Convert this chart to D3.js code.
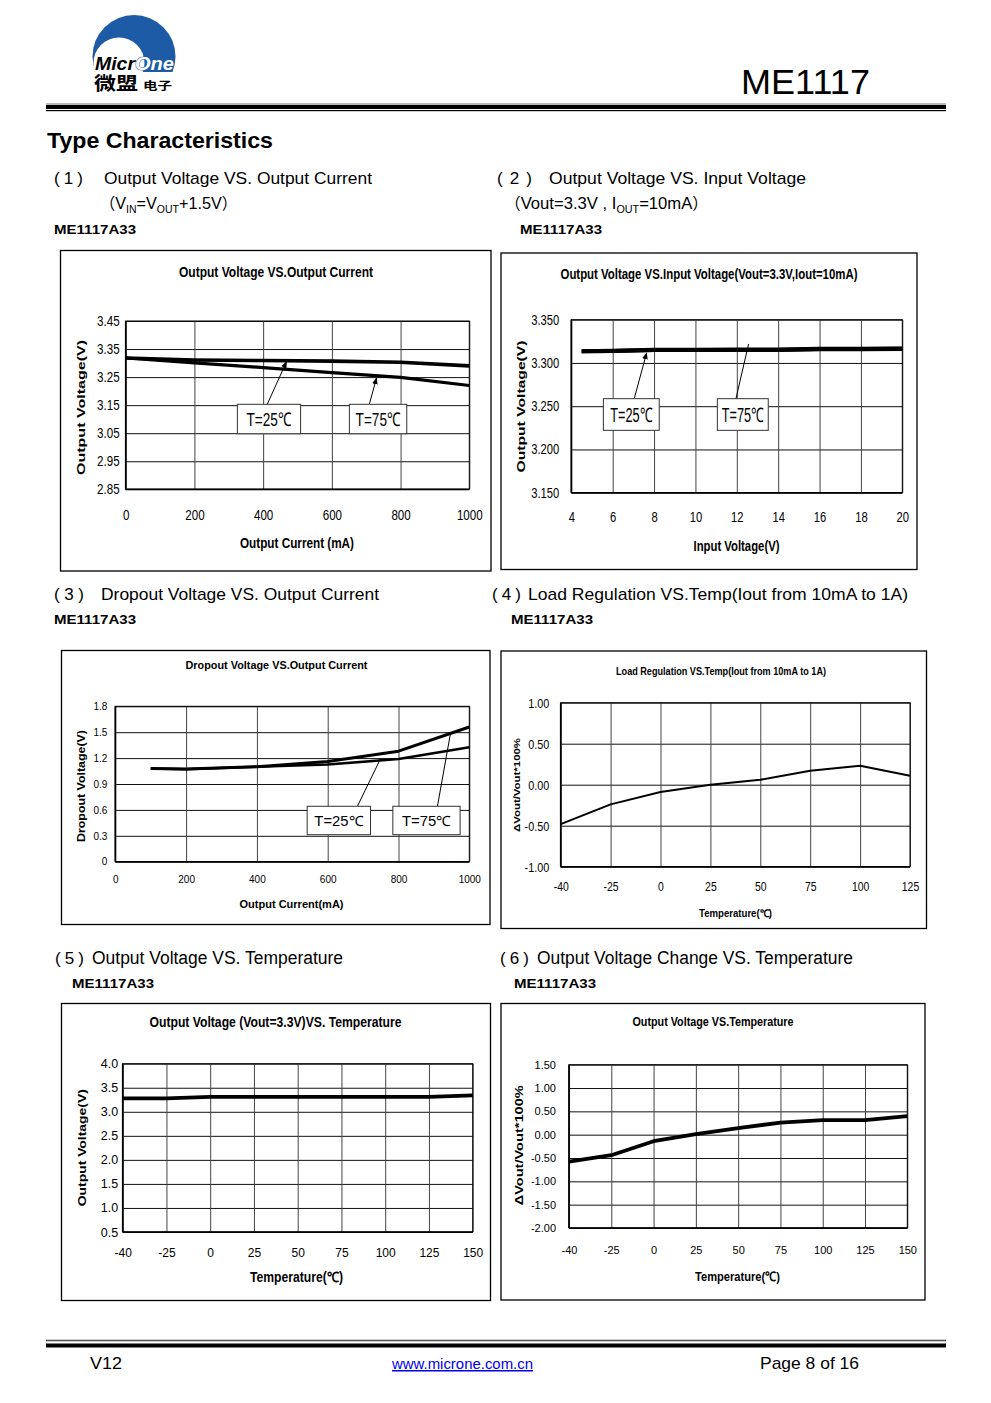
<!DOCTYPE html>
<html><head><meta charset="utf-8">
<script src="https://cdn.jsdelivr.net/npm/d3@7"></script>
<style>body{margin:0;background:#fff}svg{display:block}</style>
</head><body>
<svg id="page" width="991" height="1403"></svg>
<script>
// ================= DATA =================
// (1) Output Voltage vs Output Current
const c1Current = [0, 200, 400, 600, 800, 1000];
const c1Vout25 = [3.318, 3.311, 3.309, 3.307, 3.303, 3.290];
const c1Vout75 = [3.318, 3.301, 3.284, 3.266, 3.249, 3.220];
const c1YTicks = [2.85, 2.95, 3.05, 3.15, 3.25, 3.35, 3.45];
const c1XTicks = [0, 200, 400, 600, 800, 1000];

// (2) Output Voltage vs Input Voltage
const c2Vin = [4.5, 6, 8, 10, 12, 14, 16, 18, 20];
const c2Vout25 = [3.3135, 3.3138, 3.3150, 3.3150, 3.3150, 3.3150, 3.3160, 3.3160, 3.3162];
const c2Vout75 = [3.3135, 3.3140, 3.3152, 3.3152, 3.3153, 3.3155, 3.3162, 3.3163, 3.3165];
const c2YTicks = [3.15, 3.20, 3.25, 3.30, 3.35];
const c2XTicks = [4, 6, 8, 10, 12, 14, 16, 18, 20];

// (3) Dropout Voltage vs Output Current
const c3Current = [100, 200, 400, 600, 800, 1000];
const c3Drop25 = [1.08, 1.07, 1.10, 1.125, 1.19, 1.325];
const c3Drop75 = [1.08, 1.075, 1.10, 1.16, 1.28, 1.56];
const c3YTicks = [0, 0.3, 0.6, 0.9, 1.2, 1.5, 1.8];
const c3XTicks = [0, 200, 400, 600, 800, 1000];

// (4) Load Regulation vs Temp
const c4Temp = ["-40", "-25", "0", "25", "50", "75", "100", "125"];
const c4Reg = [-0.48, -0.24, -0.09, 0.00, 0.06, 0.17, 0.23, 0.11];
const c4YTicks = [-1.0, -0.5, 0.0, 0.5, 1.0];

// (5) Output Voltage vs Temperature
const c5Temp = ["-40", "-25", "0", "25", "50", "75", "100", "125", "150"];
const c5Vout = [3.28, 3.28, 3.31, 3.31, 3.31, 3.31, 3.31, 3.31, 3.34];
const c5YTicks = [0.5, 1.0, 1.5, 2.0, 2.5, 3.0, 3.5, 4.0];

// (6) Output Voltage Change vs Temperature
const c6Temp = ["-40", "-25", "0", "25", "50", "75", "100", "125", "150"];
const c6Change = [-0.58, -0.44, -0.14, 0.01, 0.14, 0.26, 0.31, 0.31, 0.40];
const c6YTicks = [-2.0, -1.5, -1.0, -0.5, 0.0, 0.5, 1.0, 1.5];

// ================= DRAW =================
const ARIAL = "'Liberation Sans',Arial,sans-serif";
const CJK = "'Noto Sans CJK SC','Noto Sans CJK JP',sans-serif";
const BLUE = "#1d5ba6";
const fix = f => d => f(d).replace("\u2212", "-");

const svg = d3.select("#page");
svg.append("rect").attr("width", 991).attr("height", 1403).attr("fill", "#fff");

const defs = svg.append("defs");
defs.append("marker").attr("id", "arr").attr("viewBox", "0 0 10 10").attr("refX", 9).attr("refY", 5)
  .attr("markerWidth", 7).attr("markerHeight", 7).attr("orient", "auto-start-reverse")
  .attr("markerUnits", "userSpaceOnUse")
  .append("path").attr("d", "M0,1 L10,5 L0,9 Z").attr("fill", "#000");

function txt(parent, x, y, s, o = {}) {
  const t = parent.append("text").attr("x", x).attr("y", y).text(s)
    .attr("font-family", o.family || ARIAL).attr("font-size", o.size || 12)
    .attr("font-weight", o.weight || "normal").attr("text-anchor", o.anchor || "start")
    .attr("fill", o.fill || "#000");
  if (o.len) t.attr("textLength", o.len).attr("lengthAdjust", "spacingAndGlyphs");
  if (o.rotate) t.attr("transform", `rotate(-90 ${x} ${y})`).attr("dy", "0.35em");
  if (o.style) t.attr("font-style", o.style);
  return t;
}
function squeeze(sel, k) {
  if (k === 1) return;
  sel.each(function () {
    const w = this.getComputedTextLength();
    d3.select(this).attr("textLength", w * k).attr("lengthAdjust", "spacingAndGlyphs");
  });
}

// ---------- page header ----------
const logo = svg.append("g");
defs.append("clipPath").attr("id", "logoClip").append("rect").attr("x", 80).attr("y", 0).attr("width", 120).attr("height", 72);
logo.append("circle").attr("cx", 134).attr("cy", 56.5).attr("r", 41.5).attr("fill", BLUE).attr("clip-path", "url(#logoClip)");
logo.append("circle").attr("cx", 119).attr("cy", 63).attr("r", 25.5).attr("fill", "#fff").attr("clip-path", "url(#logoClip)");
txt(logo, 95, 70, "Micr", { size: 18, weight: "bold", style: "italic", len: 40 });
txt(logo, 135, 70, "One", { size: 18, weight: "bold", style: "italic", len: 39, fill: "#fff" })
  .attr("stroke", BLUE).attr("stroke-width", 0.9).attr("paint-order", "stroke");
txt(logo, 94, 89.5, "微盟", { family: CJK, size: 18.5, weight: "bold", len: 44 });
txt(logo, 143, 89.5, "电子", { family: CJK, size: 11, weight: "bold", len: 29 });

txt(svg, 870, 94, "ME1117", { size: 35, anchor: "end", len: 129 });

svg.append("rect").attr("x", 46).attr("y", 103.5).attr("width", 900).attr("height", 1).attr("fill", "#777");
svg.append("rect").attr("x", 46).attr("y", 105).attr("width", 900).attr("height", 4).attr("fill", "#000");
svg.append("rect").attr("x", 46).attr("y", 110).attr("width", 900).attr("height", 1.2).attr("fill", "#000");

txt(svg, 47, 148, "Type Characteristics", { size: 22, weight: "bold", len: 226 });

// ---------- section headings ----------
// pl/pr: left/right edges of the "（n）" group
function heading(pl, pr, y, num, s, o) {
  txt(svg, pl, y, "(", { size: 17 });
  txt(svg, (pl + pr) / 2, y, num, { size: 17, anchor: "middle" });
  txt(svg, pr, y, ")", { size: 17, anchor: "end" });
  return txt(svg, o.tx, y, s, { size: o.size || 17, len: o.len });
}
heading(54, 83, 184, "1", "Output Voltage VS. Output Current", { tx: 104, len: 268 });
{
  const t = svg.append("text").attr("x", 100).attr("y", 209).attr("font-family", ARIAL).attr("font-size", 17);
  t.append("tspan").attr("font-family", CJK).attr("font-size", 16).text("（");
  t.append("tspan").text("V");
  t.append("tspan").attr("font-size", 11).attr("dy", 4).text("IN");
  t.append("tspan").attr("dy", -4).text("=V");
  t.append("tspan").attr("font-size", 11).attr("dy", 4).text("OUT");
  t.append("tspan").attr("dy", -4).text("+1.5V");
  t.append("tspan").attr("font-family", CJK).attr("font-size", 16).text("）");
  t.attr("textLength", 137).attr("lengthAdjust", "spacingAndGlyphs");
}
txt(svg, 54, 234, "ME1117A33", { size: 13.5, weight: "bold", len: 82 });

heading(497, 532, 184, "2", "Output Voltage VS. Input Voltage", { tx: 549, len: 257 });
{
  const t = svg.append("text").attr("x", 505).attr("y", 209).attr("font-family", ARIAL).attr("font-size", 17);
  t.append("tspan").attr("font-family", CJK).attr("font-size", 16).text("（");
  t.append("tspan").text("Vout=3.3V , I");
  t.append("tspan").attr("font-size", 11).attr("dy", 4).text("OUT");
  t.append("tspan").attr("dy", -4).text("=10mA");
  t.append("tspan").attr("font-family", CJK).attr("font-size", 16).text("）");
  t.attr("textLength", 203).attr("lengthAdjust", "spacingAndGlyphs");
}
txt(svg, 520, 234, "ME1117A33", { size: 13.5, weight: "bold", len: 82 });

heading(54, 84, 600, "3", "Dropout Voltage VS. Output Current", { tx: 101, len: 278 });
txt(svg, 54, 624, "ME1117A33", { size: 13.5, weight: "bold", len: 82 });

heading(492, 521, 600, "4", "Load Regulation VS.Temp(Iout from 10mA to 1A)", { tx: 528, len: 380 });
txt(svg, 511, 624, "ME1117A33", { size: 13.5, weight: "bold", len: 82 });

heading(55, 84, 964, "5", "Output Voltage VS. Temperature", { tx: 92, len: 251, size: 18 });
txt(svg, 72, 988, "ME1117A33", { size: 13.5, weight: "bold", len: 82 });

heading(500, 529, 964, "6", "Output Voltage Change VS. Temperature", { tx: 537, len: 316, size: 18 });
txt(svg, 514, 988, "ME1117A33", { size: 13.5, weight: "bold", len: 82 });

// ---------- chart builder ----------
function drawChart(o) {
  const g = svg.append("g");
  const [fx0, fy0, fx1, fy1] = o.frame;
  g.append("rect").attr("x", fx0).attr("y", fy0).attr("width", fx1 - fx0).attr("height", fy1 - fy0)
    .attr("fill", "#fff").attr("stroke", "#000").attr("stroke-width", 1.3);
  const [L, T, R, B] = o.plot;
  const x = o.x.range([L, R]);
  const y = o.y.range([B, T]);

  const ya = g.append("g").attr("transform", `translate(${L},0)`)
    .call(d3.axisLeft(y).tickValues(o.yTicks).tickFormat(o.yFmt).tickSize(-(R - L)).tickPadding(o.yPad));
  ya.select(".domain").remove();
  ya.selectAll(".tick line").attr("stroke", "#111").attr("stroke-width", 1);
  ya.selectAll(".tick text").attr("font-family", ARIAL).attr("font-size", o.yTickSize || o.tickSize).attr("fill", "#000");
  squeeze(ya.selectAll(".tick text"), o.k);

  const xa = g.append("g").attr("transform", `translate(0,${B})`)
    .call(d3.axisBottom(x).tickValues(o.xTicks).tickFormat(o.xFmt).tickSize(-(B - T)).tickPadding(o.xPad));
  xa.select(".domain").remove();
  xa.selectAll(".tick line").attr("stroke", "#444").attr("stroke-width", 1);
  xa.selectAll(".tick text").attr("font-family", ARIAL).attr("font-size", o.tickSize).attr("fill", "#000");
  squeeze(xa.selectAll(".tick text"), o.k);

  g.append("rect").attr("x", L).attr("y", T).attr("width", R - L).attr("height", B - T)
    .attr("fill", "none").attr("stroke", "#000").attr("stroke-width", 1);
  g.append("line").attr("x1", L).attr("x2", L).attr("y1", T).attr("y2", B).attr("stroke", "#000").attr("stroke-width", 1.6);
  g.append("line").attr("x1", L).attr("x2", R).attr("y1", B).attr("y2", B).attr("stroke", "#000").attr("stroke-width", 1.6);

  const line = d3.line().x(d => x(d[0])).y(d => y(d[1]));
  o.series.forEach(s => {
    g.append("path").datum(s.xs.map((xv, i) => [xv, s.ys[i]]))
      .attr("d", line).attr("fill", "none").attr("stroke", "#000")
      .attr("stroke-width", s.w).attr("stroke-linejoin", "round");
  });

  const t = o.title;
  txt(g, t.x, t.y, t.text, { size: t.size, weight: "bold", anchor: "middle", len: t.len });
  const xt = o.xTitle;
  txt(g, xt.x, xt.y, xt.text, { size: xt.size, weight: "bold", anchor: "middle", len: xt.len });
  const yt = o.yTitle;
  txt(g, yt.x, yt.y, yt.text, { size: yt.size, weight: "bold", anchor: "middle", len: yt.len, rotate: true });

  (o.notes || []).forEach(n => {
    const bx0 = x(n.box[0]), bx1 = x(n.box[1]), by0 = y(n.box[2]), by1 = y(n.box[3]);
    const ln = g.append("line").attr("x1", x(n.from)).attr("y1", by0).attr("x2", x(n.tip[0])).attr("y2", y(n.tip[1]))
      .attr("stroke", "#000").attr("stroke-width", 1);
    if (n.arrow) ln.attr("marker-end", "url(#arr)");
    g.append("rect").attr("x", bx0).attr("y", by0).attr("width", bx1 - bx0).attr("height", by1 - by0)
      .attr("fill", "#fff").attr("stroke", "#333").attr("stroke-width", 1);
    txt(g, (bx0 + bx1) / 2, (by0 + by1) / 2, n.label + "℃", { size: n.size, anchor: "middle", len: n.len })
      .attr("dy", "0.36em");
  });
  return { g, x, y };
}

// (1)
drawChart({
  frame: [60.5, 250.5, 491, 571],
  plot: [125.7, 321, 469.3, 489.3],
  x: d3.scaleLinear().domain([0, 1000]), xTicks: c1XTicks, xFmt: d3.format("d"), xPad: 20,
  y: d3.scaleLinear().domain([2.85, 3.45]), yTicks: c1YTicks, yFmt: d3.format(".2f"), yPad: 6,
  tickSize: 14.5, k: 0.8,
  series: [{ xs: c1Current, ys: c1Vout25, w: 3.6 }, { xs: c1Current, ys: c1Vout75, w: 3.2 }],
  title: { x: 276, y: 277, text: "Output Voltage VS.Output Current", size: 14.5, len: 194 },
  xTitle: { x: 297, y: 548, text: "Output Current (mA)", size: 14, len: 114 },
  yTitle: { x: 81.3, y: 407.5, text: "Output Voltage(V)", size: 11.5, len: 135 },
  notes: [
    { box: [325, 509, 3.153, 3.048], from: 412, tip: [468, 3.305], arrow: true, label: "T=25", size: 19, len: 45 },
    { box: [651, 818, 3.153, 3.048], from: 709, tip: [730, 3.247], arrow: true, label: "T=75", size: 19, len: 45 }
  ]
});

// (2)
drawChart({
  frame: [501, 253, 917, 569.5],
  plot: [571.3, 319.7, 902.3, 492.7],
  x: d3.scaleLinear().domain([4, 20]), xTicks: c2XTicks, xFmt: d3.format("d"), xPad: 19,
  y: d3.scaleLinear().domain([3.15, 3.35]), yTicks: c2YTicks, yFmt: d3.format(".3f"), yPad: 12,
  tickSize: 14, k: 0.8,
  series: [{ xs: c2Vin, ys: c2Vout25, w: 4.2 }, { xs: c2Vin, ys: c2Vout75, w: 4.2 }],
  title: { x: 709, y: 279, text: "Output Voltage VS.Input Voltage(Vout=3.3V,Iout=10mA)", size: 14.5, len: 297 },
  xTitle: { x: 736.5, y: 550.5, text: "Input Voltage(V)", size: 14, len: 86 },
  yTitle: { x: 521, y: 406.5, text: "Output Voltage(V)", size: 11.5, len: 132 },
  notes: [
    { box: [5.55, 8.25, 3.2587, 3.2221], from: 7.04, tip: [7.64, 3.3115], arrow: true, label: "T=25", size: 20, len: 42 },
    { box: [11.06, 13.52, 3.2587, 3.2221], from: 11.96, tip: [12.57, 3.322], arrow: false, label: "T=75", size: 20, len: 42 }
  ]
});

// (3)
drawChart({
  frame: [61.5, 650.5, 490, 924.5],
  plot: [115.3, 706.3, 469.3, 861.7],
  x: d3.scaleLinear().domain([0, 1000]), xTicks: c3XTicks, xFmt: d3.format("d"), xPad: 14,
  y: d3.scaleLinear().domain([0, 1.8]), yTicks: c3YTicks, yFmt: d => d === 0 ? "0" : d.toFixed(1), yPad: 8,
  tickSize: 10, k: 1,
  series: [{ xs: c3Current, ys: c3Drop25, w: 2.6 }, { xs: c3Current, ys: c3Drop75, w: 3.0 }],
  title: { x: 276.5, y: 669, text: "Dropout Voltage VS.Output Current", size: 11.3, len: 182 },
  xTitle: { x: 291.5, y: 908, text: "Output Current(mA)", size: 11, len: 104 },
  yTitle: { x: 81.2, y: 786, text: "Dropout Voltage(V)", size: 10, len: 112 },
  notes: [
    { box: [542, 721, 0.642, 0.313], from: 684, tip: [750, 1.20], arrow: false, label: "T=25", size: 14, len: 49 },
    { box: [784, 974, 0.642, 0.313], from: 910, tip: [947, 1.49], arrow: false, label: "T=75", size: 14, len: 49 }
  ]
});

// (4)
drawChart({
  frame: [501, 651, 926.5, 928.5],
  plot: [560.7, 702.7, 910, 866.7],
  x: d3.scalePoint().domain(c4Temp).padding(0), xTicks: c4Temp, xFmt: d => d, xPad: 15,
  y: d3.scaleLinear().domain([-1, 1]), yTicks: c4YTicks, yFmt: fix(d3.format(".2f")), yPad: 11.5,
  tickSize: 13, yTickSize: 13.5, k: 0.8,
  series: [{ xs: c4Temp, ys: c4Reg, w: 2 }],
  title: { x: 721, y: 675, text: "Load Regulation VS.Temp(Iout from 10mA to 1A)", size: 10, len: 210 },
  xTitle: { x: 735.5, y: 917, text: "Temperature(℃)", size: 10.5, len: 73 },
  yTitle: { x: 516.7, y: 785, text: "ΔVout/Vout*100%", size: 9, len: 94 }
});

// (5)
drawChart({
  frame: [61.5, 1003.5, 490.5, 1300.5],
  plot: [122.7, 1063.7, 472.7, 1232],
  x: d3.scalePoint().domain(c5Temp).padding(0), xTicks: c5Temp, xFmt: d => d, xPad: 16.5,
  y: d3.scaleLinear().domain([0.5, 4.0]), yTicks: c5YTicks, yFmt: d3.format(".1f"), yPad: 4.5,
  tickSize: 12, yTickSize: 12.5, k: 1,
  series: [{ xs: c5Temp, ys: c5Vout, w: 3.8 }],
  title: { x: 275.5, y: 1027, text: "Output Voltage (Vout=3.3V)VS. Temperature", size: 14.5, len: 252 },
  xTitle: { x: 296.5, y: 1282, text: "Temperature(℃)", size: 14, len: 93 },
  yTitle: { x: 81.7, y: 1147.7, text: "Output Voltage(V)", size: 11, len: 117 }
});

// (6)
drawChart({
  frame: [501, 1003.5, 925, 1300],
  plot: [569, 1064.7, 907.3, 1228],
  x: d3.scalePoint().domain(c6Temp).padding(0), xTicks: c6Temp, xFmt: d => d, xPad: 18,
  y: d3.scaleLinear().domain([-2.0, 1.5]), yTicks: c6YTicks, yFmt: fix(d3.format(".2f")), yPad: 13,
  tickSize: 11, k: 1,
  series: [{ xs: c6Temp, ys: c6Change, w: 3.8 }],
  title: { x: 713, y: 1025.5, text: "Output Voltage VS.Temperature", size: 12.5, len: 161 },
  xTitle: { x: 737.5, y: 1280.5, text: "Temperature(℃)", size: 13, len: 85 },
  yTitle: { x: 518.7, y: 1145.3, text: "ΔVout/Vout*100%", size: 11, len: 120 }
});

// ---------- footer ----------
svg.append("rect").attr("x", 46).attr("y", 1339.7).attr("width", 900).attr("height", 1.6).attr("fill", "#555");
svg.append("rect").attr("x", 46).attr("y", 1343.5).attr("width", 900).attr("height", 4).attr("fill", "#000");
txt(svg, 90, 1369, "V12", { size: 17, len: 32 });
txt(svg, 462.5, 1369, "www.microne.com.cn", { size: 15, anchor: "middle", fill: "#0000ee", len: 141 })
  .attr("text-decoration", "underline");
txt(svg, 760, 1369, "Page 8 of 16", { size: 17, len: 99 });
</script>
</body></html>
